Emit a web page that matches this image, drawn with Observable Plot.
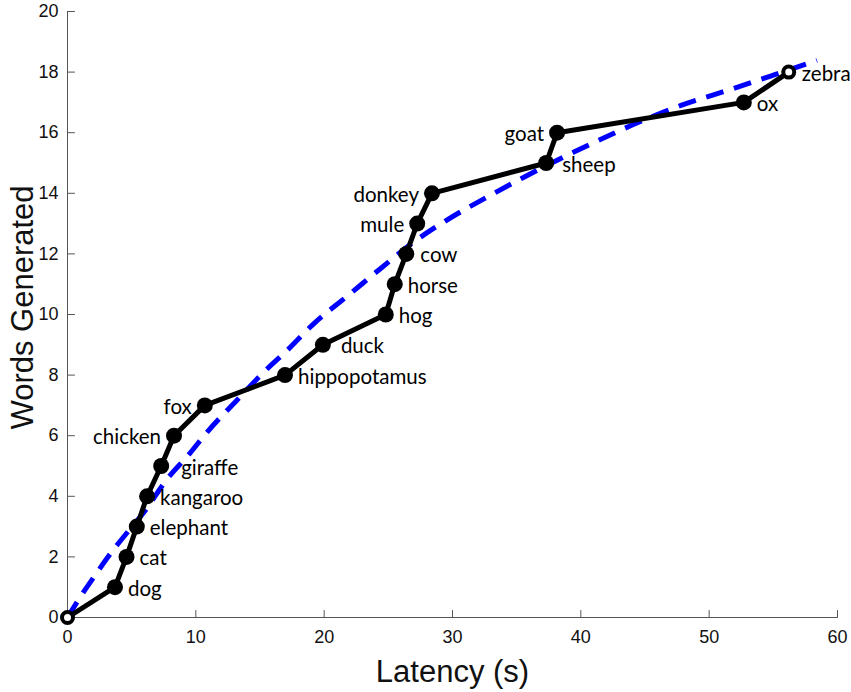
<!DOCTYPE html>
<html><head><meta charset="utf-8">
<script src="https://cdn.jsdelivr.net/npm/d3@7"></script>
<script src="https://cdn.jsdelivr.net/npm/@observablehq/plot@0.6"></script>
<style>body{margin:0;background:#fff}</style>
</head><body><div id="chart"></div>
<script>
// Observed word sequence
const animals = ["", "dog", "cat", "elephant", "kangaroo", "giraffe", "chicken", "fox", "hippopotamus", "duck", "hog", "horse", "cow", "mule", "donkey", "sheep", "goat", "ox", "zebra"];
const latency = [0, 3.7, 4.6, 5.4, 6.2, 7.3, 8.3, 10.7, 16.95, 19.9, 24.8, 25.5, 26.4, 27.25, 28.4, 37.3, 38.15, 52.7, 56.2];
const words   = [0, 1, 2, 3, 4, 5, 6, 7, 8, 9, 10, 11, 12, 13, 14, 15, 16, 17, 18];

// Fitted curve (blue dashed)
const fitLatency = [0, 1, 2, 3.6, 4.8, 6, 7.8, 9.5, 10.9, 13.2, 15.3, 17, 19.2, 21.9, 24.4, 27, 29.5, 33.2, 35.6, 39.5, 44.6, 47.8, 51.9, 55, 58.4];
const fitWords   = [0, 0.68, 1.3, 2.25, 2.88, 3.5, 4.59, 5.4, 6.13, 7.17, 8.1, 8.77, 9.7, 10.64, 11.52, 12.4, 13.1, 13.99, 14.54, 15.37, 16.36, 16.9, 17.46, 17.9, 18.39];

const xTicks = [0, 10, 20, 30, 40, 50, 60];
const yTicks = [0, 2, 4, 6, 8, 10, 12, 14, 16, 18, 20];
const xTitle = "Latency (s)";
const yTitle = "Words Generated";

const pts = animals.map((a, i) => ({animal: a, latency: latency[i], words: words[i], i}));
const fit = fitLatency.map((x, i) => ({latency: x, words: fitWords[i]}));
const last = pts.length - 1;

const leftSide = new Set(["fox", "chicken", "mule", "donkey", "goat"]);
const gap = {giraffe: 20, duck: 18, sheep: 16, cow: 14};

const labelMarks = pts.filter(d => d.animal).map(d => {
  const left = leftSide.has(d.animal);
  const g = gap[d.animal] ?? 13;
  return Plot.text([d], {
    x: "latency", y: "words", text: "animal",
    textAnchor: left ? "end" : "start",
    dx: left ? -g : g, dy: 2,
    fontSize: 20.5, fontFamily: "Lato, 'Open Sans', sans-serif", fill: "#000"
  });
});

const axisColor = "#555";
const tickShape = {draw(context, l) { context.moveTo(0, 0); context.lineTo(0, -l); }};

const chart = Plot.plot({
  width: 851, height: 692,
  marginLeft: 67, marginRight: 14, marginTop: 11, marginBottom: 75,
  style: {fontFamily: "'Liberation Sans', Arial, Helvetica, sans-serif", fontSize: "18px", color: "#111", background: "#fff"},
  x: {domain: [0, 60]},
  y: {domain: [0, 20]},
  marks: [
    Plot.axisX(xTicks, {tickSize: 0, tickPadding: 13, label: null, fontSize: 18}),
    Plot.axisY(yTicks, {tickSize: 0, tickPadding: 9, label: null, fontSize: 18}),
    Plot.vector(xTicks, {x: d => d, y: 0, length: 7, rotate: 0, anchor: "start", shape: tickShape, stroke: axisColor, strokeWidth: 1}),
    Plot.vector(yTicks, {x: 0, y: d => d, length: 7, rotate: 90, anchor: "start", shape: tickShape, stroke: axisColor, strokeWidth: 1}),
    Plot.ruleX([0], {stroke: axisColor, strokeWidth: 1}),
    Plot.ruleY([0], {stroke: axisColor, strokeWidth: 1}),
    Plot.line(fit, {x: "latency", y: "words", stroke: "#0000ff", strokeWidth: 5, strokeDasharray: "18,11", strokeLinecap: "butt", curve: "monotone-x"}),
    Plot.line(pts, {x: "latency", y: "words", stroke: "#000", strokeWidth: 5, strokeLinejoin: "round"}),
    Plot.dot(pts.filter(d => d.i !== 0 && d.i !== last), {x: "latency", y: "words", r: 8, fill: "#000"}),
    Plot.dot(pts.filter(d => d.i === 0 || d.i === last), {x: "latency", y: "words", r: 5.5, fill: "#fff", stroke: "#000", strokeWidth: 4}),
    ...labelMarks,
    Plot.text([xTitle], {frameAnchor: "bottom", textAnchor: "middle", lineAnchor: "middle", dy: 55, fontSize: 31, fill: "#111"}),
    Plot.text([yTitle], {frameAnchor: "left", textAnchor: "middle", lineAnchor: "middle", rotate: -90, dx: -44.5, dy: -7, fontSize: 31, fill: "#111"})
  ]
});
document.getElementById("chart").appendChild(chart);
</script>
</body></html>
